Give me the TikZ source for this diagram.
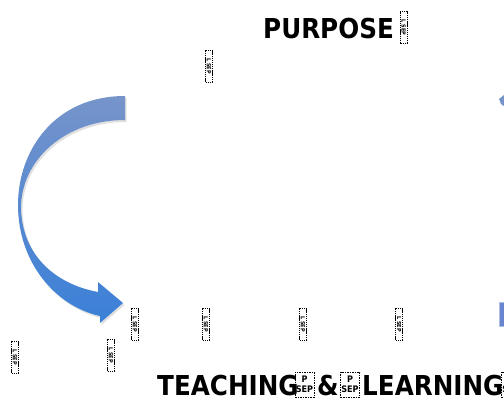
\documentclass[tikz,border=0pt]{standalone}
\usepackage{fontspec}
\usepackage{tikz}
\newfontfamily\titlefont{DejaVu Sans Condensed}
\definecolor{arrowtop}{RGB}{118,148,202}
\definecolor{arrowbot}{RGB}{58,128,216}

\begin{document}
\begin{tikzpicture}[x=1pt, y=-1pt,
    title/.style={font=\titlefont\bfseries\fontsize{27.4}{30}\selectfont, inner sep=0pt},
    lsep/.style={draw, dashed, dash pattern=on 1.3pt off 0.8pt, line width=0.6pt, rotate=-90,
        font=\titlefont\bfseries\fontsize{5.5}{5.5}\selectfont, inner sep=0.3pt, minimum width=32pt, minimum height=7pt},
    psep/.style={draw, dashed, dash pattern=on 1.5pt off 1pt, line width=0.6pt, align=center,
        font=\titlefont\bfseries\fontsize{9}{9.5}\selectfont, inner sep=0pt, minimum width=19pt, minimum height=25pt}]
    \clip (0,0) rectangle (504,405);
    \useasboundingbox (0,0) rectangle (504,405);

    % curved arrow
    \fill[black!12] [shift={(1.5,2)}] (125,96) .. controls (55,96) and (18,150) .. (18,205)
        .. controls (18,262) and (55,306) .. (100,316) -- (100,323) -- (123,303) -- (98,282) -- (98,292)
        .. controls (55,284) and (22,255) .. (21,208) .. controls (21,160) and (65,120) .. (125,120) -- cycle;
    \shade[top color=arrowtop, bottom color=arrowbot] (125,96) .. controls (55,96) and (18,150) .. (18,205)
        .. controls (18,262) and (55,306) .. (100,316) -- (100,323) -- (123,303) -- (98,282) -- (98,292)
        .. controls (55,284) and (22,255) .. (21,208) .. controls (21,160) and (65,120) .. (125,120) -- cycle;

    % pieces at the right edge
    \fill[arrowtop] (499,99) -- (504,95) -- (504,106) -- (501,104) -- cycle;
    \filldraw[fill=arrowtop!90!blue, draw=arrowtop!60] (499,302) rectangle (506,326);

    \node[title, anchor=base west] (purpose) at (263,38) {PURPOSE};
    \node[lsep] (s0) at (403.5,27.5) {L SEP};
    \node[lsep] (s1) at (209,66) {L SEP};
    \node[lsep] (s2) at (135,324) {L SEP};
    \node[lsep] (s3) at (206,324) {L SEP};
    \node[lsep] (s4) at (303,324) {L SEP};
    \node[lsep] (s5) at (399,324) {L SEP};
    \node[lsep] (s6) at (15,357) {L SEP};
    \node[lsep] (s7) at (111,355) {L SEP};

    \node[title, anchor=base west] (teaching) at (157,395) {TEACHING};
    \node[psep] (p1) at (304.5,384.5) {P\\SEP};
    \node[title, anchor=base west] (amp) at (317,395) {\&};
    \node[psep] (p2) at (350,384.5) {P\\SEP};
    \node[title, anchor=base west] (learning) at (362,395) {LEARNING};
    \node[psep] (p3) at (511,384.5) {P\\SEP};
\end{tikzpicture}
\end{document}
